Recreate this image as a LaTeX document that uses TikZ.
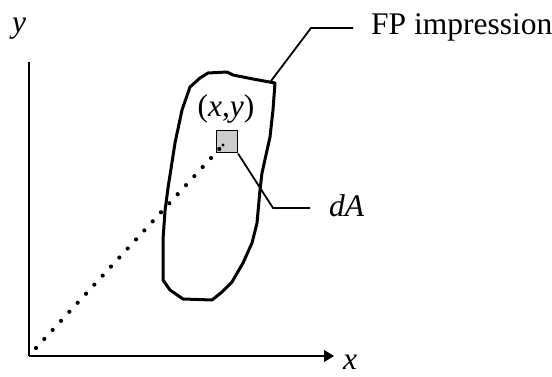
\documentclass[tikz,border=0pt]{standalone}
\usepackage{fontspec}
\setmainfont{Liberation Serif}
\usetikzlibrary{arrows.meta}
\begin{document}
\begin{tikzpicture}[x=1pt,y=-1pt,
  lbl/.style={font=\fontsize{31.5}{36}\selectfont, inner sep=0pt},
  blobline/.style={line width=3pt, line join=round},
  leader/.style={line width=1.8pt},
  axis/.style={line width=1.3pt}]
\useasboundingbox (0,0) rectangle (552,377);
% axes
\coordinate (ytop) at (29,62);
\coordinate (origin) at (29,356);
\coordinate (xend) at (334,356);
\draw[axis] (ytop) -- (origin);
\draw[axis, -{Triangle[length=10pt,width=12pt]}] (origin) -- (xend);
\node[lbl, anchor=base] (ylab) at (19,33) {\itshape y};
\node[lbl, anchor=base] (xlab) at (350,369) {\itshape x};
% impression outline
\draw[blobline] (200,78) -- (208,73) -- (227,72) -- (233,75) -- (253,79) -- (275,83)
  -- (273,110) -- (270,137) -- (266,155) -- (262,173) -- (260,190) -- (257,223)
  -- (252,243) -- (243,263) -- (232,282) -- (222,292) -- (212,300) -- (183,299)
  -- (170,290) -- (163,280) -- (163,240) -- (165,211) -- (168,188) -- (175,143)
  -- (182,110) -- (190,87) -- cycle;
\coordinate (corner) at (271,81);
% area element
\node[draw, line width=1pt, fill=gray!40, minimum width=21pt, minimum height=22pt, inner sep=0pt] (dA) at (227,142) {};
\coordinate (pt) at (223,145);
\fill (pt) circle (1.6pt);
\coordinate (start) at (36,348);
\draw[line width=4.2pt, line cap=round, dash pattern=on 0pt off 12.3pt] (start) -- (pt);
\node[lbl, anchor=base] (xy) at (226,117) {(\textit{x},\textit{y})};
% leaders
\coordinate (fpk) at (311,28);
\node[lbl, anchor=base west] (fp) at (371,35) {FP impression};
\draw[leader] (corner) -- (fpk) -- (353,28);
\coordinate (dak) at (273,208);
\node[lbl, anchor=base west] (dalab) at (329,216) {\itshape dA};
\draw[leader] (dA.south east) -- (dak) -- (310,208);
\end{tikzpicture}
\end{document}
